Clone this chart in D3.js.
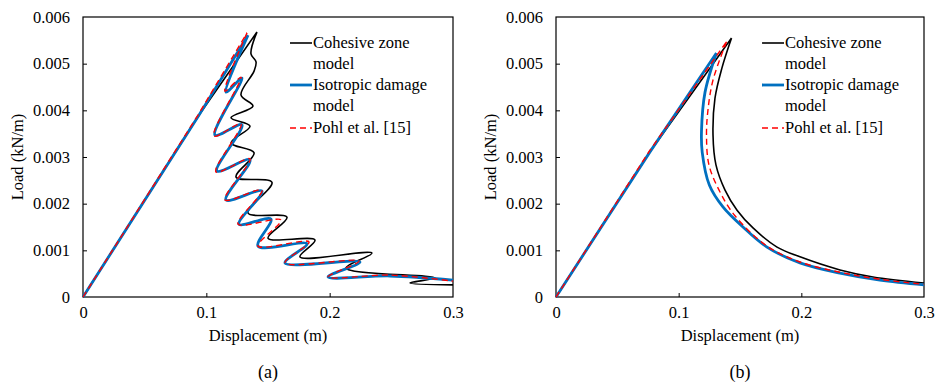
<!DOCTYPE html>
<html>
<head>
<meta charset="utf-8">
<script src="https://cdn.jsdelivr.net/npm/d3@7"></script>
<style>
  body { margin: 0; background: #fff; }
</style>
</head>
<body>
<svg id="chart"></svg>
<script>
var width = 935;
var height = 387;
var serif = "'Liberation Serif', Tinos, 'Times New Roman', serif";
var fs = 16.5;

// ---------- data: [displacement (m), load (kN/m)] ----------
// (a) zig-zag response
var cohesiveA = [[0,0],[0.0941,0.00390],[0.1411,0.00568],[0.1362,0.00521],[0.1403,0.00504],[0.1387,0.00484],
    [0.1281,0.00433],[0.1378,0.00409],[0.1200,0.00384],[0.1354,0.00366],[0.1200,0.00330],
    [0.1387,0.00309],[0.1241,0.00257],[0.1532,0.00246],[0.1338,0.00180],[0.1654,0.00171],
    [0.1500,0.00126],[0.1881,0.00122],[0.1759,0.00086],[0.2343,0.00094],[0.2132,0.00062],
    [0.2854,0.00041],[0.2651,0.00030],[0.3000,0.00026]];
var isotropicA = [[0,0],[0.0941,0.00390],[0.1338,0.00561],[0.1159,0.00439],[0.1289,0.00469],[0.1070,0.00347],
    [0.1289,0.00369],[0.1086,0.00270],[0.1354,0.00294],[0.1159,0.00208],[0.1451,0.00227],
    [0.1265,0.00156],[0.1524,0.00167],[0.1419,0.00109],[0.1816,0.00114],[0.1638,0.00073],
    [0.2246,0.00075],[0.1987,0.00043],[0.2489,0.00045],[0.3000,0.00036]];
var pohlA = [[0,0],[0.0935,0.00391],[0.1330,0.00566],[0.1151,0.00441],[0.1281,0.00471],[0.1062,0.00345],
    [0.1281,0.00371],[0.1078,0.00268],[0.1354,0.00296],[0.1151,0.00208],[0.1451,0.00229],
    [0.1257,0.00156],[0.1605,0.00165],[0.1419,0.00109],[0.1833,0.00118],[0.1638,0.00073],
    [0.2238,0.00077],[0.1987,0.00043],[0.2489,0.00047],[0.3000,0.00034]];

// (b) smooth snap-back
var cohesiveB = [[0,0],[0.0766,0.00311],[0.1431,0.00555],[0.1353,0.00491],[0.1296,0.00426],[0.1280,0.00347],
    [0.1304,0.00283],[0.1378,0.00229],[0.1476,0.00186],[0.1606,0.00148],[0.1802,0.00107],
    [0.1989,0.00086],[0.2315,0.00058],[0.2584,0.00043],[0.3000,0.00030]];
var isotropicB = [[0,0],[0.0766,0.00311],[0.1308,0.00523],[0.1215,0.00439],[0.1186,0.00354],[0.1192,0.00310],
    [0.1250,0.00240],[0.1361,0.00193],[0.1524,0.00150],[0.1720,0.00107],[0.1989,0.00073],
    [0.2315,0.00051],[0.2641,0.00036],[0.3000,0.00026]];
var pohlB = [[0,0],[0.0762,0.00313],[0.1390,0.00547],[0.1280,0.00465],[0.1239,0.00401],[0.1227,0.00347],
    [0.1247,0.00283],[0.1337,0.00225],[0.1459,0.00174],[0.1720,0.00109],[0.1989,0.00075],
    [0.2315,0.00053],[0.2641,0.00038],[0.3000,0.00027]];

var xTicks = [0, 0.1, 0.2, 0.3];
var yTicks = [0, 0.001, 0.002, 0.003, 0.004, 0.005, 0.006];
var legendNames = [["Cohesive zone", "model"], ["Isotropic damage", "model"], ["Pohl et al. [15]"]];
var panelLabels = ["(a)", "(b)"];

var seriesStyle = [
    {color: "#000000", w: 1.6, dash: null},
    {color: "#0070C0", w: 2.8, dash: null},
    {color: "#FF0000", w: 1.4, dash: "6,4"}
];

var svg = d3.select("#chart")
            .attr("width", width)
            .attr("height", height)
            .style("font-family", serif);

var panels = [
    {left: 83, right: 453, ylab: 23, legX: 290, series: [cohesiveA, isotropicA, pohlA]},
    {left: 556, right: 924, ylab: 496, legX: 762, series: [cohesiveB, isotropicB, pohlB]}
];
var plotTop = 17, plotBottom = 297;

panels.forEach(function(p, pi) {
    var x = d3.scaleLinear().domain([0, 0.3]).range([p.left, p.right]);
    var y = d3.scaleLinear().domain([0, 0.006]).range([plotBottom, plotTop]);
    var g = svg.append("g");

    // axes (ticks inside)
    var xAxis = d3.axisBottom(x).tickValues(xTicks).tickSize(-4).tickPadding(9)
                  .tickFormat(function(d) { return d === 0 ? "0" : d3.format(".1f")(d); });
    var yAxis = d3.axisLeft(y).tickValues(yTicks).tickSize(-4).tickPadding(13)
                  .tickFormat(function(d) { return d === 0 ? "0" : d3.format(".3f")(d); });

    var gx = g.append("g").attr("transform", "translate(0," + plotBottom + ")").call(xAxis);
    var gy = g.append("g").attr("transform", "translate(" + p.left + ",0)").call(yAxis);
    [gx, gy].forEach(function(a) {
        a.attr("font-family", null);
        a.select(".domain").remove();
        a.selectAll("line").attr("stroke", "#000").attr("stroke-width", 1);
        a.selectAll("text").attr("font-size", fs).attr("fill", "#000")
         .style("font-family", serif);
    });
    gy.selectAll(".tick").filter(function(d) { return d === 0.006 || d === 0; }).select("line").remove();
    gx.selectAll(".tick").filter(function(d) { return d === 0 || d === 0.3; }).select("line").remove();

    // plot border
    g.append("rect")
        .attr("x", p.left).attr("y", plotTop)
        .attr("width", p.right - p.left).attr("height", plotBottom - plotTop)
        .attr("fill", "none").attr("stroke", "#000").attr("stroke-width", 1.2);

    // curves: straight loading branch up to the peak, smooth after it
    var straight = d3.line().x(function(d) { return x(d[0]); }).y(function(d) { return y(d[1]); });
    var smooth = d3.line().x(function(d) { return x(d[0]); }).y(function(d) { return y(d[1]); })
                   .curve(d3.curveCatmullRom.alpha(0.5));

    p.series.forEach(function(s, si) {
        var st = seriesStyle[si];
        var pk = d3.maxIndex(s, function(d) { return d[1]; });
        g.append("path")
            .attr("d", straight(s.slice(0, pk + 1)) + smooth(s.slice(pk)))
            .attr("fill", "none")
            .attr("stroke", st.color)
            .attr("stroke-width", st.w)
            .attr("stroke-linejoin", "round")
            .attr("stroke-dasharray", st.dash);
    });

    // legend
    var rowY = [43, 85, 128];
    legendNames.forEach(function(name, li) {
        var st = seriesStyle[li];
        g.append("line")
            .attr("x1", p.legX).attr("x2", p.legX + 22)
            .attr("y1", rowY[li]).attr("y2", rowY[li])
            .attr("stroke", st.color).attr("stroke-width", st.w)
            .attr("stroke-dasharray", st.dash);
        name.forEach(function(t, ti) {
            g.append("text")
                .attr("x", p.legX + 23).attr("y", rowY[li] + ti * 21)
                .attr("dy", "0.33em")
                .attr("font-size", fs)
                .style("font-family", serif)
                .text(t);
        });
    });

    // titles
    var cx = (p.left + p.right) / 2;
    g.append("text")
        .attr("x", cx).attr("y", 341)
        .attr("text-anchor", "middle").attr("font-size", fs)
        .style("font-family", serif)
        .text("Displacement (m)");
    g.append("text")
        .attr("transform", "translate(" + p.ylab + "," + ((plotTop + plotBottom) / 2) + ") rotate(-90)")
        .attr("text-anchor", "middle").attr("font-size", fs)
        .style("font-family", serif)
        .text("Load (kN/m)");
    g.append("text")
        .attr("x", cx).attr("y", 378)
        .attr("text-anchor", "middle").attr("font-size", 18)
        .style("font-family", serif)
        .text(panelLabels[pi]);
});
</script>
</body>
</html>
